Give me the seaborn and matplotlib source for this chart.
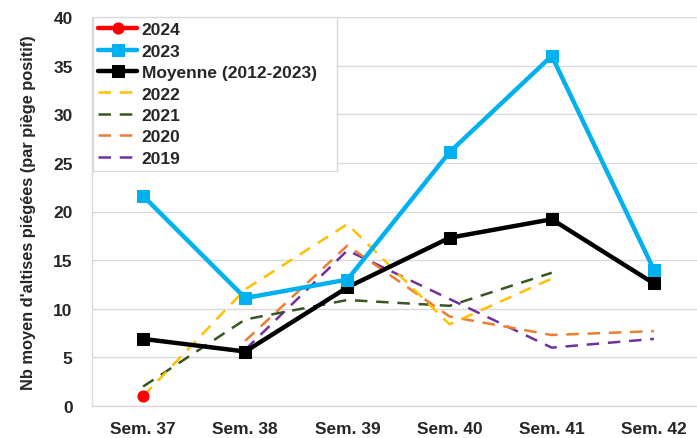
import numpy as np
import pandas as pd
import matplotlib
matplotlib.use("Agg")
import matplotlib.pyplot as plt
import seaborn as sns

sns.set_theme(style="white")
plt.rcParams["font.family"] = ["Liberation Sans", "DejaVu Sans"]
plt.rcParams["font.weight"] = "bold"

# data
weeks = ["Sem. 37", "Sem. 38", "Sem. 39", "Sem. 40", "Sem. 41", "Sem. 42"]
y2024 = [1.0, np.nan, np.nan, np.nan, np.nan, np.nan]
y2023 = [21.6, 11.1, 13.0, 26.1, 36.0, 14.0]
moyenne = [6.9, 5.6, 12.2, 17.3, 19.2, 12.6]
y2022 = [1.0, 12.0, 18.7, 8.4, 13.1, np.nan]
y2021 = [2.0, 8.9, 10.9, 10.3, 13.7, np.nan]
y2020 = [np.nan, 6.7, 16.5, 9.2, 7.3, 7.7]
y2019 = [np.nan, 5.8, 16.0, 11.0, 6.0, 6.9]

x = np.arange(len(weeks))

fig = plt.figure(figsize=(6.97, 4.39), dpi=100)
ax = fig.add_axes([92 / 697, 1 - 407 / 439, 613 / 697, 389 / 439])

# dashed yearly series
dashed = [
    ("2019", y2019, "#7030A0"),
    ("2020", y2020, "#ED7D31"),
    ("2021", y2021, "#375623"),
    ("2022", y2022, "#FFC000"),
]
handles = {}
for name, vals, col in dashed:
    sns.lineplot(x=x, y=vals, ax=ax, color=col, linewidth=1.8, zorder=3)
    line = ax.lines[-1]
    line.set_dashes((5, 3.5))
    handles[name] = line

sns.lineplot(x=x, y=moyenne, ax=ax, color="black", linewidth=3.2,
             marker="s", markersize=8, markeredgecolor="black", zorder=4)
handles["Moyenne (2012-2023)"] = ax.lines[-1]

sns.lineplot(x=x, y=y2023, ax=ax, color="#00B0F0", linewidth=3.2,
             marker="s", markersize=8, markeredgecolor="#00B0F0", zorder=5)
handles["2023"] = ax.lines[-1]

sns.lineplot(x=x, y=y2024, ax=ax, color="#FF0000", linewidth=3.2,
             marker="o", markersize=8, markeredgecolor="#FF0000", zorder=6)
handles["2024"] = ax.lines[-1]

ax.set_xlim(-0.5, len(weeks) - 0.5)
ax.set_ylim(0, 40)
ax.set_yticks(range(0, 41, 5))
ax.set_xticks(x)
ax.set_xticklabels(weeks, fontsize=12.5, fontweight="bold")
ax.set_xticks(np.arange(0.5, len(weeks) - 0.5, 1), minor=True)
ax.tick_params(axis="x", which="major", length=0, pad=11)
ax.tick_params(axis="x", which="minor", length=5, color="#D9D9D9", width=1, direction="out")
ax.tick_params(axis="y", length=0, labelsize=12.5, pad=14)
for t in ax.get_yticklabels():
    t.set_fontweight("bold")

ax.yaxis.grid(True, color="#D9D9D9", linewidth=1)
ax.set_axisbelow(True)
for s in ["top", "right"]:
    ax.spines[s].set_visible(False)
for s in ["left", "bottom"]:
    ax.spines[s].set_color("#D9D9D9")
    ax.spines[s].set_linewidth(1)

ax.set_xlabel("")
ax.set_ylabel("Nb moyen d'altises piégées (par piège positif)", fontsize=11.8,
              fontweight="bold", labelpad=12)

order = ["2024", "2023", "Moyenne (2012-2023)", "2022", "2021", "2020", "2019"]
labels = [k + "   " if k.startswith("Moy") else k for k in order]
leg = ax.legend([handles[k] for k in order], labels, loc="upper left",
                bbox_to_anchor=(0.002, 1.0), borderaxespad=0, fancybox=False,
                framealpha=1, edgecolor="#D9D9D9", fontsize=12.5,
                handlelength=2.2, handletextpad=0.3, labelspacing=0.36,
                borderpad=0.3)
leg.get_frame().set_linewidth(1)
for t in leg.get_texts():
    t.set_fontweight("bold")

fig.savefig("out.png", dpi=100)
